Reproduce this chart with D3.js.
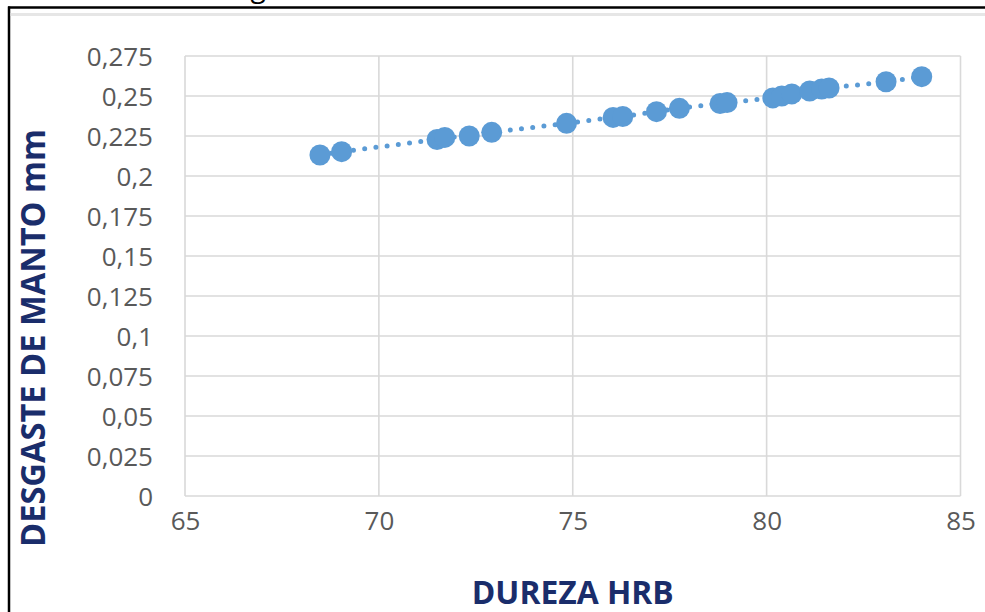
<!DOCTYPE html>
<html>
<head>
<meta charset="utf-8">
<script src="https://cdn.jsdelivr.net/npm/d3@7"></script>
<style>
  html, body { margin: 0; padding: 0; background: #fff; }
  svg { display: block; }
</style>
</head>
<body>
<svg id="chart" width="985" height="612"></svg>
<script>
// Data
const durezaHRB = [68.48, 69.04, 71.50, 71.70, 72.33, 72.91, 74.84, 76.04, 76.29, 77.16, 77.75, 78.80, 78.98, 80.16, 80.39, 80.65, 81.11, 81.42, 81.61, 83.08, 84.00];
const desgasteMM = [0.2131, 0.2152, 0.2228, 0.2241, 0.2250, 0.2273, 0.2329, 0.2366, 0.2372, 0.2402, 0.2423, 0.2453, 0.2459, 0.2488, 0.2500, 0.2513, 0.2531, 0.2544, 0.2550, 0.2589, 0.2621];
const xTicks = [65, 70, 75, 80, 85];
const yTicks = [0, 0.025, 0.05, 0.075, 0.1, 0.125, 0.15, 0.175, 0.2, 0.225, 0.25, 0.275];
const xTitle = "DUREZA HRB";
const yTitle = "DESGASTE DE MANTO mm";

(function () {
const points = durezaHRB.map((d, i) => ({ x: d, y: desgasteMM[i] }));

const svg = d3.select("#chart");
const pLeft = 185, pRight = 960.5, pTop = 56, pBottom = 496;

const x = d3.scaleLinear().domain([65, 85]).range([pLeft, pRight]);
const y = d3.scaleLinear().domain([0, 0.275]).range([pBottom, pTop]);

// outer frame (black)
svg.append("line").attr("x1", 8).attr("x2", 985).attr("y1", 7.5).attr("y2", 7.5)
  .attr("stroke", "#000").attr("stroke-width", 2.5);
svg.append("line").attr("x1", 9).attr("x2", 9).attr("y1", 6.5).attr("y2", 612)
  .attr("stroke", "#000").attr("stroke-width", 2.5);
// light grey band under frame
svg.append("line").attr("x1", 10.5).attr("x2", 985).attr("y1", 14.5).attr("y2", 14.5)
  .attr("stroke", "#e6e6e6").attr("stroke-width", 3);
// cut-off title descender (the reference's title is outside the crop)
svg.append("text").attr("x", 258).attr("y", -3).attr("text-anchor", "middle")
  .attr("font-family", "Open Sans, sans-serif").attr("font-size", 28).attr("fill", "#000").text("g");

// grid
const grid = svg.append("g");
grid.selectAll("line.h").data(yTicks).enter().append("line")
  .attr("x1", pLeft).attr("x2", pRight)
  .attr("y1", d => y(d)).attr("y2", d => y(d))
  .attr("stroke", "#d9d9d9").attr("stroke-width", 1.6);
grid.selectAll("line.v").data(xTicks).enter().append("line")
  .attr("y1", pTop).attr("y2", pBottom)
  .attr("x1", d => x(d)).attr("x2", d => x(d))
  .attr("stroke", "#d9d9d9").attr("stroke-width", 1.6);

const fmtY = d => String(+d.toFixed(3)).replace(".", ",");

// y axis
const yAxis = d3.axisLeft(y).tickValues(yTicks).tickFormat(fmtY).tickSize(0).tickPadding(0);
const gy = svg.append("g").attr("transform", `translate(153,0)`).call(yAxis);
gy.select(".domain").remove();
gy.selectAll("text").attr("font-family", "Open Sans, sans-serif").attr("font-size", 26)
  .attr("fill", "#595959").attr("dy", "0.36em");

// x axis
const xAxis = d3.axisBottom(x).tickValues(xTicks).tickFormat(d => d).tickSize(0).tickPadding(0);
const gx = svg.append("g").attr("transform", `translate(0,${pBottom + 16})`).call(xAxis);
gx.select(".domain").remove();
gx.selectAll("text").attr("font-family", "Open Sans, sans-serif").attr("font-size", 26)
  .attr("fill", "#595959").attr("dy", "0.71em");

// titles
svg.append("text").attr("x", x(75)).attr("y", 604).attr("text-anchor", "middle")
  .attr("font-family", "Open Sans, sans-serif").attr("font-weight", 700).attr("font-size", 33)
  .attr("fill", "#1a2d6b").attr("textLength", 202).attr("lengthAdjust", "spacingAndGlyphs")
  .text(xTitle);
svg.append("text").attr("transform", "translate(45,338) rotate(-90)").attr("text-anchor", "middle")
  .attr("font-family", "Open Sans, sans-serif").attr("font-weight", 700).attr("font-size", 34)
  .attr("fill", "#1a2d6b").attr("textLength", 418).attr("lengthAdjust", "spacingAndGlyphs")
  .text(yTitle);

// dotted trend line connecting the points
const line = d3.line().x(d => x(d.x)).y(d => y(d.y));
svg.append("path").datum(points).attr("d", line)
  .attr("fill", "none").attr("stroke", "#5b9bd5").attr("stroke-width", 5)
  .attr("stroke-linecap", "round").attr("stroke-dasharray", "0,11.3");

// markers
svg.append("g").selectAll("circle").data(points).enter().append("circle")
  .attr("cx", d => x(d.x)).attr("cy", d => y(d.y)).attr("r", 10.5)
  .attr("fill", "#5b9bd5");
})();
</script>
</body>
</html>
